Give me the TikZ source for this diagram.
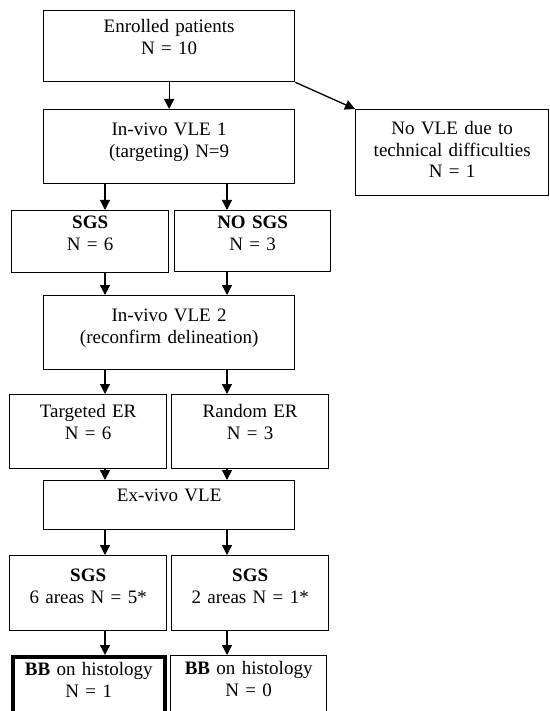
\documentclass[tikz,border=0pt]{standalone}
\usepackage{fontspec}
\setmainfont{Liberation Serif}
\usetikzlibrary{arrows.meta}
\begin{document}
\begin{tikzpicture}[x=1pt, y=-1pt, line width=1.3pt,
        >={Triangle[length=10pt,width=10pt]},
        flow/.style={draw, anchor=north west, inner sep=0pt, align=center,
            text height=26pt, font=\fontsize{19}{21.5}\selectfont},
        wide/.style={flow, text width=251pt},
        half/.style={flow, text width=157pt}]
        \useasboundingbox (0,0) rectangle (549,711);
        \coordinate (colL) at (105,0);
        \coordinate (colR) at (227,0);
        \node[wide, text height=22pt, text depth=49pt] (enrolled) at (43,10) {Enrolled patients\\N = 10};
        \node[wide, text depth=48pt] (vle1) at (43,109) {In-vivo VLE 1\\(targeting) N=9};
        \node[flow, text width=193pt, text height=25pt, text depth=61pt] (novle) at (355,109) {No VLE due to\\technical difficulties\\N = 1};
        \node[half, text height=18pt, text depth=44pt] (sgs) at (11,210) {\textbf{SGS}\\N = 6};
        \node[half, text width=156pt, text height=18pt, text depth=43pt] (nosgs) at (174,210) {\textbf{NO SGS}\\N = 3};
        \node[wide, text depth=48pt] (vle2) at (43,295) {In-vivo VLE 2\\(reconfirm delineation)};
        \node[half, text height=23pt, text depth=51pt] (ter) at (9,394) {Targeted ER\\N = 6};
        \node[half, text height=23pt, text depth=51pt] (rer) at (171,394) {Random ER\\N = 3};
        \node[wide, text height=21pt, text depth=28pt] (exvivo) at (43,480) {Ex-vivo VLE};
        \node[half, text depth=49pt] (sgssix) at (9,555) {\textbf{SGS}\\6 areas N = 5*};
        \node[half, text depth=49pt] (sgstwo) at (171,555) {\textbf{SGS}\\2 areas N = 1*};
        \node[half, text width=152pt, text height=19pt, text depth=56pt, line width=3.5pt] (bbone) at (11,655) {\textbf{BB} on histology\\N = 1};
        \node[half, text width=156pt, text height=19pt, text depth=56pt] (bbzero) at (170,655) {\textbf{BB} on histology\\N = 0};
        % arrows
        \draw[->] (enrolled) -- (vle1);
        \draw[->] (enrolled.south east) -- (novle.north west);
        \draw[->] (vle1.south -| colL) -- (sgs.north -| colL);
        \draw[->] (vle1.south -| colR) -- (nosgs.north -| colR);
        \draw[->] (sgs.south -| colL) -- (vle2.north -| colL);
        \draw[->] (nosgs.south -| colR) -- (vle2.north -| colR);
        \draw[->] (vle2.south -| colL) -- (ter.north -| colL);
        \draw[->] (vle2.south -| colR) -- (rer.north -| colR);
        \draw[->] (ter.south -| colL) -- (exvivo.north -| colL);
        \draw[->] (rer.south -| colR) -- (exvivo.north -| colR);
        \draw[->] (exvivo.south -| colL) -- (sgssix.north -| colL);
        \draw[->] (exvivo.south -| colR) -- (sgstwo.north -| colR);
        \draw[->] (sgssix.south -| colL) -- (bbone.north -| colL);
        \draw[->] (sgstwo.south -| colR) -- (bbzero.north -| colR);
\end{tikzpicture}
\end{document}
